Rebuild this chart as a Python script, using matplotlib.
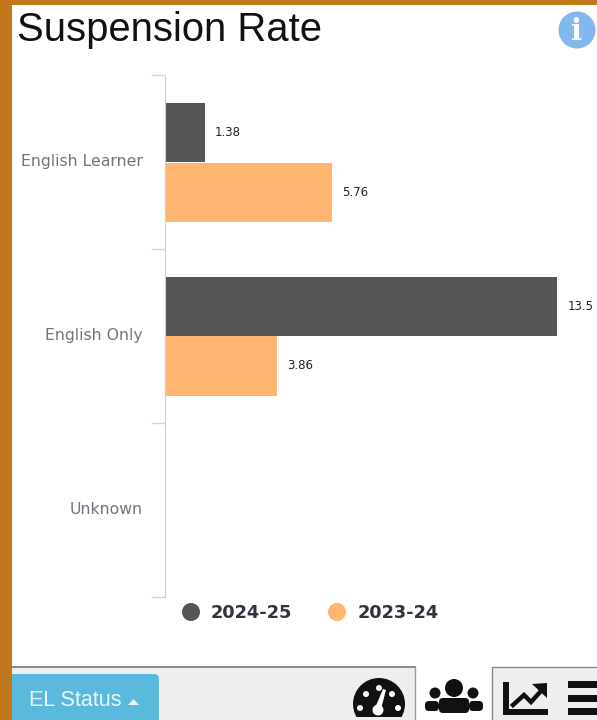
#!/usr/bin/env python3
import numpy as np
from matplotlib import pyplot as plt
from matplotlib.patches import Circle, Rectangle, FancyBboxPatch, Polygon

categories = ['English Learner', 'English Only', 'Unknown']
years = ['2024-25', '2023-24']
rate_2425 = [1.38, 13.5, np.nan]
rate_2324 = [5.76, 3.86, np.nan]

DARK = '#555553'
PEACH = '#FDB56F'
BORDER = '#C1781C'
ICON = '#111111'
W, H = 597, 720

fig = plt.figure(figsize=(W / 100, H / 100), dpi=100, facecolor='white')

# page furniture, drawn in pixel coordinates
bg = fig.add_axes([0, 0, 1, 1], zorder=0)
bg.set_xlim(0, W)
bg.set_ylim(H, 0)
bg.axis('off')
bg.add_patch(Rectangle((0, 0), W, 5, color=BORDER, lw=0))
bg.add_patch(Rectangle((0, 0), 12, H, color=BORDER, lw=0))

bg.text(17, 41, 'Suspension Rate', family='Liberation Sans', fontsize=28.8,
        color='#111111', va='baseline')
bg.add_patch(Circle((577, 30), 18.5, color='#83B8EC', lw=0))
bg.text(577, 31, 'i', family='DejaVu Serif', fontsize=21, fontweight='bold',
        color='white', ha='center', va='center')

# tab bar
bg.add_patch(Rectangle((12, 667), W - 12, H - 667, color='#EEEEEE', lw=0))
bg.plot([12, 415], [667, 667], color='#777777', lw=1.2)
bg.plot([415, 415], [667, H], color='#999999', lw=1)
bg.plot([492, 492, W], [H, 667, 667], color='#888888', lw=1)
bg.add_patch(Rectangle((416, 662), 76, H - 662, color='white', lw=0))
bg.add_patch(FancyBboxPatch((6, 674), 153, 60, boxstyle='round,pad=0,rounding_size=5',
                            color='#5BB9DE', lw=0))
bg.add_patch(Rectangle((0, 668), 12, H - 668, color=BORDER, lw=0))
bg.text(29, 701, 'EL Status', family='Liberation Sans', fontsize=15.5, color='#E8F6FB',
        va='center')
bg.add_patch(Polygon([[128, 705], [139, 705], [133.5, 699]], color='#E8F6FB', lw=0))

# gauge icon
bg.add_patch(Circle((379, 704), 26, color=ICON, lw=0))
bg.add_patch(Rectangle((350, 717), 58, 5, color='#EEEEEE', lw=0))
for dx, dy in [(-19, 4), (-13, -10), (0, -16), (13, -10), (19, 4)]:
    bg.add_patch(Circle((379 + dx, 704 + dy), 3, color='white', lw=0))
bg.add_patch(Polygon([[375, 708], [381, 709], [386, 690], [383, 689]], color='white', lw=0))
bg.add_patch(Circle((378, 710), 5.5, color='white', lw=0))

# group icon
for cx, cy, r in [(454, 688, 9), (435, 693, 5.5), (473, 693, 5.5)]:
    bg.add_patch(Circle((cx, cy), r, color=ICON, lw=0))
for x0, y0, w, h in [(439, 698, 30, 15), (425, 701, 14, 10), (469, 701, 14, 10)]:
    bg.add_patch(FancyBboxPatch((x0, y0), w, h, boxstyle='round,pad=0,rounding_size=4',
                                color=ICON, lw=0))

# line chart icon
bg.plot([506, 506, 548], [682, 712, 712], color=ICON, lw=4.3, solid_capstyle='butt',
        solid_joinstyle='miter')
bg.plot([513, 524, 531, 541], [705, 695, 702, 691], color=ICON, lw=3.2,
        solid_joinstyle='miter')
bg.add_patch(Polygon([[532, 684], [547, 683], [547, 698]], color=ICON, lw=0))

# menu icon
for y in [684, 698, 711]:
    bg.add_patch(Rectangle((568, y - 3.5), 29, 7, color=ICON, lw=0))

# chart
left, right, top, bottom = 165, W, 75, 596.5
ax = fig.add_axes([left / W, 1 - bottom / H, (right - left) / W, (bottom - top) / H], zorder=1)
ax.patch.set_alpha(0)

y = np.arange(len(categories))
bar_h = 0.34
bars1 = ax.barh(y - bar_h / 2, rate_2425, bar_h, color=DARK)
bars2 = ax.barh(y + bar_h / 2 + 0.004, rate_2324, bar_h, color=PEACH)
for bars, vals in [(bars1, rate_2425), (bars2, rate_2324)]:
    for b, v in zip(bars, vals):
        if not np.isnan(v):
            ax.annotate(f'{v:g}', (v, b.get_y() + b.get_height() / 2), xytext=(10, 0),
                        textcoords='offset pixels', fontsize=8.5, color='#222222',
                        va='center', family='DejaVu Sans', annotation_clip=False)

ax.set_xlim(0, (right - left) / 29.05)
ax.set_ylim(2.5, -0.5)
ax.set_xticks([])
ax.set_yticks(y)
ax.set_yticklabels(categories, fontsize=11.3, color='#6E7680', va='center')
ax.tick_params(axis='y', length=0, pad=16)
ax.set_yticks(np.arange(-0.5, 3), minor=True)
ax.tick_params(axis='y', which='minor', length=10, width=1, color='#CCD6EB')
for s in ['top', 'right', 'bottom']:
    ax.spines[s].set_visible(False)
ax.spines['left'].set_color('#C8D2E2')

# legend
for x_m, x_t, color, label in [(191, 211, DARK, years[0]), (337, 358, PEACH, years[1])]:
    bg.add_patch(Circle((x_m, 612), 9, color=color, lw=0))
    bg.text(x_t, 612.5, label, fontsize=12.8, fontweight='bold', color='#333340', va='center',
            family='DejaVu Sans')

fig.savefig('out.png', dpi=100)
